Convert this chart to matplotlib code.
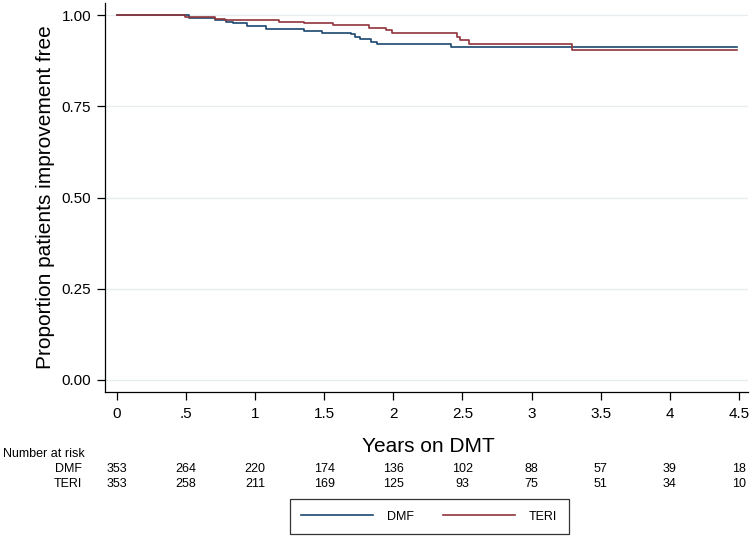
import matplotlib
matplotlib.use("Agg")
import matplotlib.pyplot as plt
import matplotlib.transforms as mtransforms

plt.rcParams['font.family'] = ['Liberation Sans', 'DejaVu Sans']

# Kaplan-Meier step values (time in years, proportion)
dmf_t = [0, 0.52, 0.62, 0.71, 0.79, 0.84, 0.94, 1.08, 1.35, 1.48, 1.69, 1.72, 1.76, 1.84, 1.88, 2.42, 4.49]
dmf_s = [1.0, 0.993, 0.991, 0.986, 0.982, 0.977, 0.971, 0.963, 0.956, 0.950, 0.947, 0.941, 0.933, 0.927, 0.920, 0.912, 0.912]

teri_t = [0, 0.49, 0.71, 0.78, 1.17, 1.35, 1.56, 1.82, 1.95, 1.99, 2.46, 2.48, 2.55, 3.29, 4.49]
teri_s = [1.0, 0.994, 0.989, 0.986, 0.982, 0.977, 0.972, 0.965, 0.959, 0.950, 0.941, 0.932, 0.920, 0.903, 0.903]

xticks = [0, 0.5, 1, 1.5, 2, 2.5, 3, 3.5, 4, 4.5]
xtick_labels = ["0", ".5", "1", "1.5", "2", "2.5", "3", "3.5", "4", "4.5"]
yticks = [0, 0.25, 0.5, 0.75, 1.0]
ytick_labels = ["0.00", "0.25", "0.50", "0.75", "1.00"]

risk_dmf = [353, 264, 220, 174, 136, 102, 88, 57, 39, 18]
risk_teri = [353, 258, 211, 169, 125, 93, 75, 51, 34, 10]

navy = "#1a476f"
maroon = "#90353b"

fig = plt.figure(figsize=(7.55, 5.39), dpi=100)
ax = fig.add_axes([105 / 755, 1 - 392 / 539, 643 / 755, 389 / 539])

ax.step(dmf_t, dmf_s, where="post", color=navy, lw=1.2, label="DMF")
ax.step(teri_t, teri_s, where="post", color=maroon, lw=1.2, label="TERI")

ax.set_xlim(-0.087, 4.566)
ax.set_ylim(-0.033, 1.033)
ax.set_xticks(xticks)
ax.set_xticklabels(xtick_labels)
ax.set_yticks(yticks)
ax.set_yticklabels(ytick_labels)
ax.yaxis.grid(True, color="#e6ecef", lw=0.9)
ax.set_axisbelow(True)
for s in ["top", "right"]:
    ax.spines[s].set_visible(False)
for s in ["left", "bottom"]:
    ax.spines[s].set_linewidth(0.9)
ax.tick_params(axis="both", length=6, width=0.9, labelsize=11, color="black")
ax.tick_params(axis="x", pad=5)
ax.tick_params(axis="y", pad=4)

ax.set_ylabel("Proportion patients improvement free", fontsize=15, labelpad=5)
fig.text(428 / 755, 1 - 446 / 539, "Years on DMT", fontsize=15, ha="center", va="center")

# number at risk table
trans = mtransforms.blended_transform_factory(ax.transData, fig.transFigure)
fs = 9
fig.text(3 / 755, 1 - 454 / 539, "Number at risk", fontsize=fs, ha="left", va="center")
fig.text(82 / 755, 1 - 469 / 539, "DMF", fontsize=fs, ha="right", va="center")
fig.text(82 / 755, 1 - 484 / 539, "TERI", fontsize=fs, ha="right", va="center")
for xt, a, b in zip(xticks, risk_dmf, risk_teri):
    ax.text(xt, 1 - 469 / 539, str(a), transform=trans, fontsize=fs,
            ha="center", va="center", clip_on=False)
    ax.text(xt, 1 - 484 / 539, str(b), transform=trans, fontsize=fs,
            ha="center", va="center", clip_on=False)

leg = fig.legend(loc="center", bbox_to_anchor=(429 / 755, 1 - 516.5 / 539), ncol=2,
                 fontsize=fs, frameon=True, fancybox=False, edgecolor="black",
                 handlelength=5.8, handletextpad=1.1, columnspacing=2.3, borderpad=0.9)
leg.get_frame().set_linewidth(0.9)

fig.savefig("out.png", dpi=100)
